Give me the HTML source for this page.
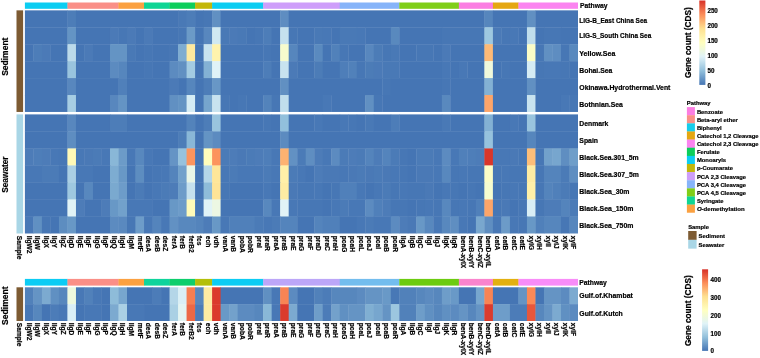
<!DOCTYPE html>
<html><head><meta charset="utf-8"><title>Heatmap</title>
<style>html,body{margin:0;padding:0;background:#fff;}body{width:760px;height:358px;overflow:hidden;font-family:"Liberation Sans",Arial,sans-serif;}svg{display:block;will-change:transform;transform:translateZ(0)}text{stroke:#000;stroke-width:0.2px}</style>
</head><body>
<svg width="760" height="358" viewBox="0 0 760 358" font-family="Liberation Sans, Arial, sans-serif" font-weight="bold" fill="#000">
<rect x="24.90" y="2.50" width="42.85" height="6.30" fill="#0CCDF2"/>
<rect x="67.45" y="2.50" width="51.36" height="6.30" fill="#FA8F87"/>
<rect x="118.50" y="2.50" width="25.83" height="6.30" fill="#FBA141"/>
<rect x="144.03" y="2.50" width="25.83" height="6.30" fill="#0FD594"/>
<rect x="169.56" y="2.50" width="25.83" height="6.30" fill="#0DCE5B"/>
<rect x="195.08" y="2.50" width="17.32" height="6.30" fill="#C3B70A"/>
<rect x="212.10" y="2.50" width="51.36" height="6.30" fill="#0CCDF2"/>
<rect x="263.16" y="2.50" width="76.88" height="6.30" fill="#CE9EFA"/>
<rect x="339.74" y="2.50" width="59.86" height="6.30" fill="#86B4F9"/>
<rect x="399.31" y="2.50" width="59.86" height="6.30" fill="#80CE18"/>
<rect x="458.87" y="2.50" width="34.34" height="6.30" fill="#FB7EE2"/>
<rect x="492.91" y="2.50" width="25.83" height="6.30" fill="#E5A712"/>
<rect x="518.44" y="2.50" width="59.56" height="6.30" fill="#FB84F0"/>
<text x="580.00" y="8.33" font-size="6.8" textLength="27.4" lengthAdjust="spacingAndGlyphs">Pathway</text>
<rect x="24.90" y="10.35" width="42.95" height="17.33" fill="#4575B4"/>
<rect x="67.45" y="10.35" width="8.91" height="17.33" fill="#4D7DB8"/>
<rect x="75.96" y="10.35" width="102.51" height="17.33" fill="#4575B4"/>
<rect x="178.07" y="10.35" width="8.91" height="17.33" fill="#4979B6"/>
<rect x="186.58" y="10.35" width="8.91" height="17.33" fill="#4D7DB8"/>
<rect x="195.08" y="10.35" width="8.91" height="17.33" fill="#4575B4"/>
<rect x="203.59" y="10.35" width="8.91" height="17.33" fill="#4777B5"/>
<rect x="212.10" y="10.35" width="8.91" height="17.33" fill="#6190C2"/>
<rect x="220.61" y="10.35" width="59.96" height="17.33" fill="#4575B4"/>
<rect x="280.18" y="10.35" width="8.91" height="17.33" fill="#5E8DC1"/>
<rect x="288.69" y="10.35" width="196.11" height="17.33" fill="#4575B4"/>
<rect x="484.40" y="10.35" width="8.91" height="17.33" fill="#5686BD"/>
<rect x="492.91" y="10.35" width="34.44" height="17.33" fill="#4575B4"/>
<rect x="526.94" y="10.35" width="8.91" height="17.33" fill="#6190C2"/>
<rect x="535.45" y="10.35" width="42.55" height="17.33" fill="#4575B4"/>
<rect x="24.90" y="27.28" width="42.95" height="17.33" fill="#4575B4"/>
<rect x="67.45" y="27.28" width="8.91" height="17.33" fill="#6494C4"/>
<rect x="75.96" y="27.28" width="34.44" height="17.33" fill="#4575B4"/>
<rect x="109.99" y="27.28" width="8.91" height="17.33" fill="#4B7AB7"/>
<rect x="118.50" y="27.28" width="8.91" height="17.33" fill="#4777B5"/>
<rect x="127.01" y="27.28" width="8.91" height="17.33" fill="#4B7AB7"/>
<rect x="135.52" y="27.28" width="8.91" height="17.33" fill="#4575B4"/>
<rect x="144.03" y="27.28" width="8.91" height="17.33" fill="#4B7AB7"/>
<rect x="152.54" y="27.28" width="25.93" height="17.33" fill="#4575B4"/>
<rect x="178.07" y="27.28" width="8.91" height="17.33" fill="#4777B5"/>
<rect x="186.58" y="27.28" width="8.91" height="17.33" fill="#6B9AC7"/>
<rect x="195.08" y="27.28" width="8.91" height="17.33" fill="#4575B4"/>
<rect x="203.59" y="27.28" width="8.91" height="17.33" fill="#5887BE"/>
<rect x="212.10" y="27.28" width="8.91" height="17.33" fill="#D0E9F2"/>
<rect x="220.61" y="27.28" width="8.91" height="17.33" fill="#4979B6"/>
<rect x="229.12" y="27.28" width="8.91" height="17.33" fill="#4B7AB7"/>
<rect x="237.63" y="27.28" width="8.91" height="17.33" fill="#4979B6"/>
<rect x="246.14" y="27.28" width="8.91" height="17.33" fill="#4575B4"/>
<rect x="254.65" y="27.28" width="8.91" height="17.33" fill="#4777B5"/>
<rect x="263.16" y="27.28" width="8.91" height="17.33" fill="#4D7DB8"/>
<rect x="271.67" y="27.28" width="8.91" height="17.33" fill="#4575B4"/>
<rect x="280.18" y="27.28" width="8.91" height="17.33" fill="#C5E1EE"/>
<rect x="288.69" y="27.28" width="8.91" height="17.33" fill="#4777B5"/>
<rect x="297.20" y="27.28" width="17.42" height="17.33" fill="#4575B4"/>
<rect x="314.21" y="27.28" width="8.91" height="17.33" fill="#4979B6"/>
<rect x="322.72" y="27.28" width="8.91" height="17.33" fill="#4878B6"/>
<rect x="331.23" y="27.28" width="8.91" height="17.33" fill="#4575B4"/>
<rect x="339.74" y="27.28" width="17.42" height="17.33" fill="#4979B6"/>
<rect x="356.76" y="27.28" width="8.91" height="17.33" fill="#4878B6"/>
<rect x="365.27" y="27.28" width="25.93" height="17.33" fill="#4575B4"/>
<rect x="390.80" y="27.28" width="8.91" height="17.33" fill="#5989BE"/>
<rect x="399.31" y="27.28" width="42.95" height="17.33" fill="#4575B4"/>
<rect x="441.85" y="27.28" width="42.95" height="17.33" fill="#4777B5"/>
<rect x="484.40" y="27.28" width="8.91" height="17.33" fill="#9EC8E0"/>
<rect x="492.91" y="27.28" width="8.91" height="17.33" fill="#4B7AB7"/>
<rect x="501.42" y="27.28" width="8.91" height="17.33" fill="#4777B5"/>
<rect x="509.93" y="27.28" width="8.91" height="17.33" fill="#4878B6"/>
<rect x="518.44" y="27.28" width="8.91" height="17.33" fill="#4575B4"/>
<rect x="526.94" y="27.28" width="8.91" height="17.33" fill="#C0DEEC"/>
<rect x="535.45" y="27.28" width="8.91" height="17.33" fill="#4575B4"/>
<rect x="543.96" y="27.28" width="17.42" height="17.33" fill="#4777B5"/>
<rect x="560.98" y="27.28" width="17.02" height="17.33" fill="#4575B4"/>
<rect x="24.90" y="44.22" width="8.91" height="17.33" fill="#4575B4"/>
<rect x="33.41" y="44.22" width="8.91" height="17.33" fill="#4D7DB8"/>
<rect x="41.92" y="44.22" width="8.91" height="17.33" fill="#4B7AB7"/>
<rect x="50.43" y="44.22" width="17.42" height="17.33" fill="#4575B4"/>
<rect x="67.45" y="44.22" width="8.91" height="17.33" fill="#BBDAEA"/>
<rect x="75.96" y="44.22" width="8.91" height="17.33" fill="#4575B4"/>
<rect x="84.46" y="44.22" width="8.91" height="17.33" fill="#4B7AB7"/>
<rect x="92.97" y="44.22" width="17.42" height="17.33" fill="#4575B4"/>
<rect x="109.99" y="44.22" width="17.42" height="17.33" fill="#6494C4"/>
<rect x="127.01" y="44.22" width="8.91" height="17.33" fill="#4979B6"/>
<rect x="135.52" y="44.22" width="8.91" height="17.33" fill="#4575B4"/>
<rect x="144.03" y="44.22" width="8.91" height="17.33" fill="#4777B5"/>
<rect x="152.54" y="44.22" width="17.42" height="17.33" fill="#4575B4"/>
<rect x="169.56" y="44.22" width="8.91" height="17.33" fill="#4777B5"/>
<rect x="178.07" y="44.22" width="8.91" height="17.33" fill="#7EACD1"/>
<rect x="186.58" y="44.22" width="8.91" height="17.33" fill="#FEE99E"/>
<rect x="195.08" y="44.22" width="8.91" height="17.33" fill="#4575B4"/>
<rect x="203.59" y="44.22" width="8.91" height="17.33" fill="#C8E3EF"/>
<rect x="212.10" y="44.22" width="8.91" height="17.33" fill="#FFF3AD"/>
<rect x="220.61" y="44.22" width="42.95" height="17.33" fill="#4575B4"/>
<rect x="263.16" y="44.22" width="8.91" height="17.33" fill="#4777B5"/>
<rect x="271.67" y="44.22" width="8.91" height="17.33" fill="#4575B4"/>
<rect x="280.18" y="44.22" width="8.91" height="17.33" fill="#F7FCCD"/>
<rect x="288.69" y="44.22" width="8.91" height="17.33" fill="#5686BD"/>
<rect x="297.20" y="44.22" width="17.42" height="17.33" fill="#4575B4"/>
<rect x="314.21" y="44.22" width="8.91" height="17.33" fill="#5A8ABF"/>
<rect x="322.72" y="44.22" width="8.91" height="17.33" fill="#4575B4"/>
<rect x="331.23" y="44.22" width="8.91" height="17.33" fill="#5181BA"/>
<rect x="339.74" y="44.22" width="8.91" height="17.33" fill="#4777B5"/>
<rect x="348.25" y="44.22" width="17.42" height="17.33" fill="#4575B4"/>
<rect x="365.27" y="44.22" width="8.91" height="17.33" fill="#5887BE"/>
<rect x="373.78" y="44.22" width="8.91" height="17.33" fill="#4C7CB7"/>
<rect x="382.29" y="44.22" width="8.91" height="17.33" fill="#4777B5"/>
<rect x="390.80" y="44.22" width="8.91" height="17.33" fill="#4979B6"/>
<rect x="399.31" y="44.22" width="17.42" height="17.33" fill="#4575B4"/>
<rect x="416.32" y="44.22" width="17.42" height="17.33" fill="#4777B5"/>
<rect x="433.34" y="44.22" width="8.91" height="17.33" fill="#4575B4"/>
<rect x="441.85" y="44.22" width="8.91" height="17.33" fill="#4B7AB7"/>
<rect x="450.36" y="44.22" width="34.44" height="17.33" fill="#4575B4"/>
<rect x="484.40" y="44.22" width="8.91" height="17.33" fill="#FDBA77"/>
<rect x="492.91" y="44.22" width="34.44" height="17.33" fill="#4575B4"/>
<rect x="526.94" y="44.22" width="8.91" height="17.33" fill="#FBFDC7"/>
<rect x="535.45" y="44.22" width="8.91" height="17.33" fill="#4777B5"/>
<rect x="543.96" y="44.22" width="8.91" height="17.33" fill="#6190C2"/>
<rect x="552.47" y="44.22" width="8.91" height="17.33" fill="#5E8DC1"/>
<rect x="560.98" y="44.22" width="8.91" height="17.33" fill="#4777B5"/>
<rect x="569.49" y="44.22" width="8.51" height="17.33" fill="#5989BE"/>
<rect x="24.90" y="61.15" width="42.95" height="17.33" fill="#4575B4"/>
<rect x="67.45" y="61.15" width="8.91" height="17.33" fill="#99C4DE"/>
<rect x="75.96" y="61.15" width="34.44" height="17.33" fill="#4575B4"/>
<rect x="109.99" y="61.15" width="8.91" height="17.33" fill="#5C8BC0"/>
<rect x="118.50" y="61.15" width="8.91" height="17.33" fill="#5686BD"/>
<rect x="127.01" y="61.15" width="17.42" height="17.33" fill="#4575B4"/>
<rect x="144.03" y="61.15" width="8.91" height="17.33" fill="#4777B5"/>
<rect x="152.54" y="61.15" width="17.42" height="17.33" fill="#4575B4"/>
<rect x="169.56" y="61.15" width="8.91" height="17.33" fill="#5C8BC0"/>
<rect x="178.07" y="61.15" width="8.91" height="17.33" fill="#6190C2"/>
<rect x="186.58" y="61.15" width="8.91" height="17.33" fill="#A3CBE2"/>
<rect x="195.08" y="61.15" width="8.91" height="17.33" fill="#4575B4"/>
<rect x="203.59" y="61.15" width="8.91" height="17.33" fill="#83B1D4"/>
<rect x="212.10" y="61.15" width="8.91" height="17.33" fill="#E0F3F7"/>
<rect x="220.61" y="61.15" width="42.95" height="17.33" fill="#4575B4"/>
<rect x="263.16" y="61.15" width="8.91" height="17.33" fill="#4D7DB8"/>
<rect x="271.67" y="61.15" width="8.91" height="17.33" fill="#4575B4"/>
<rect x="280.18" y="61.15" width="8.91" height="17.33" fill="#C8E3EF"/>
<rect x="288.69" y="61.15" width="8.91" height="17.33" fill="#4B7AB7"/>
<rect x="297.20" y="61.15" width="17.42" height="17.33" fill="#4575B4"/>
<rect x="314.21" y="61.15" width="8.91" height="17.33" fill="#4C7CB7"/>
<rect x="322.72" y="61.15" width="17.42" height="17.33" fill="#4575B4"/>
<rect x="339.74" y="61.15" width="8.91" height="17.33" fill="#4E7EB9"/>
<rect x="348.25" y="61.15" width="8.91" height="17.33" fill="#5181BA"/>
<rect x="356.76" y="61.15" width="8.91" height="17.33" fill="#4777B5"/>
<rect x="365.27" y="61.15" width="8.91" height="17.33" fill="#4C7CB7"/>
<rect x="373.78" y="61.15" width="8.91" height="17.33" fill="#4B7AB7"/>
<rect x="382.29" y="61.15" width="17.42" height="17.33" fill="#4979B6"/>
<rect x="399.31" y="61.15" width="42.95" height="17.33" fill="#4575B4"/>
<rect x="441.85" y="61.15" width="8.91" height="17.33" fill="#4878B6"/>
<rect x="450.36" y="61.15" width="8.91" height="17.33" fill="#4575B4"/>
<rect x="458.87" y="61.15" width="8.91" height="17.33" fill="#4878B6"/>
<rect x="467.38" y="61.15" width="17.42" height="17.33" fill="#4575B4"/>
<rect x="484.40" y="61.15" width="8.91" height="17.33" fill="#F0F9DB"/>
<rect x="492.91" y="61.15" width="8.91" height="17.33" fill="#4575B4"/>
<rect x="501.42" y="61.15" width="8.91" height="17.33" fill="#4777B5"/>
<rect x="509.93" y="61.15" width="17.42" height="17.33" fill="#4575B4"/>
<rect x="526.94" y="61.15" width="8.91" height="17.33" fill="#D5ECF4"/>
<rect x="535.45" y="61.15" width="8.91" height="17.33" fill="#4777B5"/>
<rect x="543.96" y="61.15" width="17.42" height="17.33" fill="#4878B6"/>
<rect x="560.98" y="61.15" width="8.91" height="17.33" fill="#4777B5"/>
<rect x="569.49" y="61.15" width="8.51" height="17.33" fill="#4575B4"/>
<rect x="24.90" y="78.08" width="42.95" height="17.33" fill="#4575B4"/>
<rect x="67.45" y="78.08" width="8.91" height="17.33" fill="#5887BE"/>
<rect x="75.96" y="78.08" width="42.95" height="17.33" fill="#4575B4"/>
<rect x="118.50" y="78.08" width="8.91" height="17.33" fill="#5080BA"/>
<rect x="127.01" y="78.08" width="42.95" height="17.33" fill="#4575B4"/>
<rect x="169.56" y="78.08" width="8.91" height="17.33" fill="#4B7AB7"/>
<rect x="178.07" y="78.08" width="8.91" height="17.33" fill="#4575B4"/>
<rect x="186.58" y="78.08" width="8.91" height="17.33" fill="#5686BD"/>
<rect x="195.08" y="78.08" width="8.91" height="17.33" fill="#4575B4"/>
<rect x="203.59" y="78.08" width="8.91" height="17.33" fill="#4D7DB8"/>
<rect x="212.10" y="78.08" width="8.91" height="17.33" fill="#6897C6"/>
<rect x="220.61" y="78.08" width="59.96" height="17.33" fill="#4575B4"/>
<rect x="280.18" y="78.08" width="8.91" height="17.33" fill="#6190C2"/>
<rect x="288.69" y="78.08" width="94.00" height="17.33" fill="#4575B4"/>
<rect x="382.29" y="78.08" width="8.91" height="17.33" fill="#4777B5"/>
<rect x="390.80" y="78.08" width="51.46" height="17.33" fill="#4575B4"/>
<rect x="441.85" y="78.08" width="8.91" height="17.33" fill="#4777B5"/>
<rect x="450.36" y="78.08" width="34.44" height="17.33" fill="#4575B4"/>
<rect x="484.40" y="78.08" width="8.91" height="17.33" fill="#83B1D4"/>
<rect x="492.91" y="78.08" width="34.44" height="17.33" fill="#4575B4"/>
<rect x="526.94" y="78.08" width="8.91" height="17.33" fill="#6190C2"/>
<rect x="535.45" y="78.08" width="42.55" height="17.33" fill="#4575B4"/>
<rect x="24.90" y="95.02" width="42.95" height="16.93" fill="#4575B4"/>
<rect x="67.45" y="95.02" width="8.91" height="16.93" fill="#A6CDE3"/>
<rect x="75.96" y="95.02" width="34.44" height="16.93" fill="#4575B4"/>
<rect x="109.99" y="95.02" width="8.91" height="16.93" fill="#5887BE"/>
<rect x="118.50" y="95.02" width="8.91" height="16.93" fill="#6494C4"/>
<rect x="127.01" y="95.02" width="42.95" height="16.93" fill="#4575B4"/>
<rect x="169.56" y="95.02" width="8.91" height="16.93" fill="#6190C2"/>
<rect x="178.07" y="95.02" width="8.91" height="16.93" fill="#6494C4"/>
<rect x="186.58" y="95.02" width="8.91" height="16.93" fill="#D5ECF4"/>
<rect x="195.08" y="95.02" width="8.91" height="16.93" fill="#4575B4"/>
<rect x="203.59" y="95.02" width="8.91" height="16.93" fill="#76A5CD"/>
<rect x="212.10" y="95.02" width="8.91" height="16.93" fill="#C8E3EF"/>
<rect x="220.61" y="95.02" width="8.91" height="16.93" fill="#4777B5"/>
<rect x="229.12" y="95.02" width="8.91" height="16.93" fill="#4575B4"/>
<rect x="237.63" y="95.02" width="8.91" height="16.93" fill="#4777B5"/>
<rect x="246.14" y="95.02" width="17.42" height="16.93" fill="#4575B4"/>
<rect x="263.16" y="95.02" width="8.91" height="16.93" fill="#5383BB"/>
<rect x="271.67" y="95.02" width="8.91" height="16.93" fill="#4777B5"/>
<rect x="280.18" y="95.02" width="8.91" height="16.93" fill="#C0DEEC"/>
<rect x="288.69" y="95.02" width="34.44" height="16.93" fill="#4575B4"/>
<rect x="322.72" y="95.02" width="8.91" height="16.93" fill="#4878B6"/>
<rect x="331.23" y="95.02" width="34.44" height="16.93" fill="#4575B4"/>
<rect x="365.27" y="95.02" width="8.91" height="16.93" fill="#6190C2"/>
<rect x="373.78" y="95.02" width="8.91" height="16.93" fill="#4777B5"/>
<rect x="382.29" y="95.02" width="59.96" height="16.93" fill="#4575B4"/>
<rect x="441.85" y="95.02" width="8.91" height="16.93" fill="#5989BE"/>
<rect x="450.36" y="95.02" width="34.44" height="16.93" fill="#4575B4"/>
<rect x="484.40" y="95.02" width="8.91" height="16.93" fill="#FDA569"/>
<rect x="492.91" y="95.02" width="34.44" height="16.93" fill="#4575B4"/>
<rect x="526.94" y="95.02" width="8.91" height="16.93" fill="#C8E3EF"/>
<rect x="535.45" y="95.02" width="25.93" height="16.93" fill="#4575B4"/>
<rect x="560.98" y="95.02" width="8.91" height="16.93" fill="#4878B6"/>
<rect x="569.49" y="95.02" width="8.51" height="16.93" fill="#4777B5"/>
<text x="579.30" y="22.73" font-size="6.8" textLength="67.8" lengthAdjust="spacingAndGlyphs">LIG-B_East China Sea</text>
<text x="579.30" y="38.28" font-size="6.8" textLength="72.0" lengthAdjust="spacingAndGlyphs">LIG-S_South China Sea</text>
<text x="579.30" y="56.13" font-size="6.8" textLength="36.0" lengthAdjust="spacingAndGlyphs">Yellow.Sea</text>
<text x="579.30" y="73.03" font-size="6.8" textLength="33.0" lengthAdjust="spacingAndGlyphs">Bohai.Sea</text>
<text x="579.30" y="90.03" font-size="6.8" textLength="91.1" lengthAdjust="spacingAndGlyphs">Okinawa.Hydrothermal.Vent</text>
<text x="579.30" y="106.83" font-size="6.8" textLength="43.6" lengthAdjust="spacingAndGlyphs">Bothnian.Sea</text>
<rect x="24.90" y="114.40" width="42.95" height="17.41" fill="#4575B4"/>
<rect x="67.45" y="114.40" width="8.91" height="17.41" fill="#5887BE"/>
<rect x="75.96" y="114.40" width="34.44" height="17.41" fill="#4575B4"/>
<rect x="109.99" y="114.40" width="17.42" height="17.41" fill="#4D7DB8"/>
<rect x="127.01" y="114.40" width="59.96" height="17.41" fill="#4575B4"/>
<rect x="186.58" y="114.40" width="8.91" height="17.41" fill="#5383BB"/>
<rect x="195.08" y="114.40" width="8.91" height="17.41" fill="#4575B4"/>
<rect x="203.59" y="114.40" width="8.91" height="17.41" fill="#4D7DB8"/>
<rect x="212.10" y="114.40" width="8.91" height="17.41" fill="#99C4DE"/>
<rect x="220.61" y="114.40" width="42.95" height="17.41" fill="#4575B4"/>
<rect x="263.16" y="114.40" width="8.91" height="17.41" fill="#4777B5"/>
<rect x="271.67" y="114.40" width="8.91" height="17.41" fill="#4575B4"/>
<rect x="280.18" y="114.40" width="8.91" height="17.41" fill="#92C0DC"/>
<rect x="288.69" y="114.40" width="25.93" height="17.41" fill="#4575B4"/>
<rect x="314.21" y="114.40" width="8.91" height="17.41" fill="#4878B6"/>
<rect x="322.72" y="114.40" width="17.42" height="17.41" fill="#4575B4"/>
<rect x="339.74" y="114.40" width="8.91" height="17.41" fill="#4878B6"/>
<rect x="348.25" y="114.40" width="8.91" height="17.41" fill="#4777B5"/>
<rect x="356.76" y="114.40" width="8.91" height="17.41" fill="#4575B4"/>
<rect x="365.27" y="114.40" width="8.91" height="17.41" fill="#4979B6"/>
<rect x="373.78" y="114.40" width="17.42" height="17.41" fill="#4575B4"/>
<rect x="390.80" y="114.40" width="8.91" height="17.41" fill="#4D7DB8"/>
<rect x="399.31" y="114.40" width="42.95" height="17.41" fill="#4575B4"/>
<rect x="441.85" y="114.40" width="8.91" height="17.41" fill="#4979B6"/>
<rect x="450.36" y="114.40" width="34.44" height="17.41" fill="#4575B4"/>
<rect x="484.40" y="114.40" width="8.91" height="17.41" fill="#83B1D4"/>
<rect x="492.91" y="114.40" width="17.42" height="17.41" fill="#4575B4"/>
<rect x="509.93" y="114.40" width="8.91" height="17.41" fill="#4878B6"/>
<rect x="518.44" y="114.40" width="8.91" height="17.41" fill="#4575B4"/>
<rect x="526.94" y="114.40" width="8.91" height="17.41" fill="#99C4DE"/>
<rect x="535.45" y="114.40" width="42.55" height="17.41" fill="#4575B4"/>
<rect x="24.90" y="131.41" width="42.95" height="17.41" fill="#4575B4"/>
<rect x="67.45" y="131.41" width="8.91" height="17.41" fill="#5E8DC1"/>
<rect x="75.96" y="131.41" width="102.51" height="17.41" fill="#4575B4"/>
<rect x="178.07" y="131.41" width="8.91" height="17.41" fill="#4D7DB8"/>
<rect x="186.58" y="131.41" width="8.91" height="17.41" fill="#89B7D7"/>
<rect x="195.08" y="131.41" width="8.91" height="17.41" fill="#4575B4"/>
<rect x="203.59" y="131.41" width="8.91" height="17.41" fill="#6494C4"/>
<rect x="212.10" y="131.41" width="8.91" height="17.41" fill="#5C8BC0"/>
<rect x="220.61" y="131.41" width="59.96" height="17.41" fill="#4575B4"/>
<rect x="280.18" y="131.41" width="8.91" height="17.41" fill="#5C8BC0"/>
<rect x="288.69" y="131.41" width="196.11" height="17.41" fill="#4575B4"/>
<rect x="484.40" y="131.41" width="8.91" height="17.41" fill="#96C2DD"/>
<rect x="492.91" y="131.41" width="34.44" height="17.41" fill="#4575B4"/>
<rect x="526.94" y="131.41" width="8.91" height="17.41" fill="#5686BD"/>
<rect x="535.45" y="131.41" width="42.55" height="17.41" fill="#4575B4"/>
<rect x="24.90" y="148.43" width="8.91" height="17.41" fill="#4D7CB8"/>
<rect x="33.41" y="148.43" width="8.91" height="17.41" fill="#4E7EB9"/>
<rect x="41.92" y="148.43" width="8.91" height="17.41" fill="#4D7CB8"/>
<rect x="50.43" y="148.43" width="8.91" height="17.41" fill="#4878B6"/>
<rect x="58.94" y="148.43" width="8.91" height="17.41" fill="#4777B5"/>
<rect x="67.45" y="148.43" width="8.91" height="17.41" fill="#FFF9B7"/>
<rect x="75.96" y="148.43" width="8.91" height="17.41" fill="#4878B6"/>
<rect x="84.46" y="148.43" width="8.91" height="17.41" fill="#4A79B6"/>
<rect x="92.97" y="148.43" width="8.91" height="17.41" fill="#4B7BB7"/>
<rect x="101.48" y="148.43" width="8.91" height="17.41" fill="#4878B6"/>
<rect x="109.99" y="148.43" width="8.91" height="17.41" fill="#89B7D7"/>
<rect x="118.50" y="148.43" width="8.91" height="17.41" fill="#6C9BC8"/>
<rect x="127.01" y="148.43" width="8.91" height="17.41" fill="#4878B6"/>
<rect x="135.52" y="148.43" width="8.91" height="17.41" fill="#5888BE"/>
<rect x="144.03" y="148.43" width="8.91" height="17.41" fill="#4878B6"/>
<rect x="152.54" y="148.43" width="17.42" height="17.41" fill="#4575B4"/>
<rect x="169.56" y="148.43" width="8.91" height="17.41" fill="#6594C5"/>
<rect x="178.07" y="148.43" width="8.91" height="17.41" fill="#96C2DD"/>
<rect x="186.58" y="148.43" width="8.91" height="17.41" fill="#FC945D"/>
<rect x="195.08" y="148.43" width="8.91" height="17.41" fill="#4575B4"/>
<rect x="203.59" y="148.43" width="8.91" height="17.41" fill="#FFFDBC"/>
<rect x="212.10" y="148.43" width="8.91" height="17.41" fill="#FC945D"/>
<rect x="220.61" y="148.43" width="8.91" height="17.41" fill="#4B7BB7"/>
<rect x="229.12" y="148.43" width="8.91" height="17.41" fill="#4D7CB8"/>
<rect x="237.63" y="148.43" width="8.91" height="17.41" fill="#4A79B6"/>
<rect x="246.14" y="148.43" width="8.91" height="17.41" fill="#4B7BB7"/>
<rect x="254.65" y="148.43" width="8.91" height="17.41" fill="#4D7CB8"/>
<rect x="263.16" y="148.43" width="8.91" height="17.41" fill="#4E7EB9"/>
<rect x="271.67" y="148.43" width="8.91" height="17.41" fill="#4878B6"/>
<rect x="280.18" y="148.43" width="8.91" height="17.41" fill="#FDB271"/>
<rect x="288.69" y="148.43" width="8.91" height="17.41" fill="#6291C3"/>
<rect x="297.20" y="148.43" width="8.91" height="17.41" fill="#4B7BB7"/>
<rect x="305.70" y="148.43" width="8.91" height="17.41" fill="#5F8EC1"/>
<rect x="314.21" y="148.43" width="8.91" height="17.41" fill="#4D7CB8"/>
<rect x="322.72" y="148.43" width="8.91" height="17.41" fill="#4878B6"/>
<rect x="331.23" y="148.43" width="8.91" height="17.41" fill="#5C8BC0"/>
<rect x="339.74" y="148.43" width="8.91" height="17.41" fill="#4B7BB7"/>
<rect x="348.25" y="148.43" width="8.91" height="17.41" fill="#4D7CB8"/>
<rect x="356.76" y="148.43" width="8.91" height="17.41" fill="#4B7BB7"/>
<rect x="365.27" y="148.43" width="8.91" height="17.41" fill="#5484BC"/>
<rect x="373.78" y="148.43" width="8.91" height="17.41" fill="#4D7CB8"/>
<rect x="382.29" y="148.43" width="8.91" height="17.41" fill="#5484BC"/>
<rect x="390.80" y="148.43" width="8.91" height="17.41" fill="#4B7BB7"/>
<rect x="399.31" y="148.43" width="8.91" height="17.41" fill="#4777B5"/>
<rect x="407.82" y="148.43" width="8.91" height="17.41" fill="#4575B4"/>
<rect x="416.32" y="148.43" width="17.42" height="17.41" fill="#4B7BB7"/>
<rect x="433.34" y="148.43" width="8.91" height="17.41" fill="#4878B6"/>
<rect x="441.85" y="148.43" width="8.91" height="17.41" fill="#5C8BC0"/>
<rect x="450.36" y="148.43" width="8.91" height="17.41" fill="#4878B6"/>
<rect x="458.87" y="148.43" width="8.91" height="17.41" fill="#5080BA"/>
<rect x="467.38" y="148.43" width="8.91" height="17.41" fill="#4E7EB9"/>
<rect x="475.89" y="148.43" width="8.91" height="17.41" fill="#4D7CB8"/>
<rect x="484.40" y="148.43" width="8.91" height="17.41" fill="#D9362A"/>
<rect x="492.91" y="148.43" width="17.42" height="17.41" fill="#4878B6"/>
<rect x="509.93" y="148.43" width="8.91" height="17.41" fill="#4A79B6"/>
<rect x="518.44" y="148.43" width="8.91" height="17.41" fill="#4777B5"/>
<rect x="526.94" y="148.43" width="8.91" height="17.41" fill="#FDBE79"/>
<rect x="535.45" y="148.43" width="8.91" height="17.41" fill="#4777B5"/>
<rect x="543.96" y="148.43" width="8.91" height="17.41" fill="#72A1CB"/>
<rect x="552.47" y="148.43" width="8.91" height="17.41" fill="#77A6CE"/>
<rect x="560.98" y="148.43" width="8.91" height="17.41" fill="#5F8EC1"/>
<rect x="569.49" y="148.43" width="8.51" height="17.41" fill="#6F9EC9"/>
<rect x="24.90" y="165.44" width="17.42" height="17.41" fill="#4878B6"/>
<rect x="41.92" y="165.44" width="17.42" height="17.41" fill="#4B7BB7"/>
<rect x="58.94" y="165.44" width="8.91" height="17.41" fill="#4575B4"/>
<rect x="67.45" y="165.44" width="8.91" height="17.41" fill="#AACFE4"/>
<rect x="75.96" y="165.44" width="17.42" height="17.41" fill="#4878B6"/>
<rect x="92.97" y="165.44" width="17.42" height="17.41" fill="#4575B4"/>
<rect x="109.99" y="165.44" width="8.91" height="17.41" fill="#7DACD1"/>
<rect x="118.50" y="165.44" width="8.91" height="17.41" fill="#6898C6"/>
<rect x="127.01" y="165.44" width="8.91" height="17.41" fill="#4575B4"/>
<rect x="135.52" y="165.44" width="8.91" height="17.41" fill="#5D8DC0"/>
<rect x="144.03" y="165.44" width="8.91" height="17.41" fill="#4575B4"/>
<rect x="152.54" y="165.44" width="8.91" height="17.41" fill="#4777B5"/>
<rect x="161.05" y="165.44" width="8.91" height="17.41" fill="#4878B6"/>
<rect x="169.56" y="165.44" width="8.91" height="17.41" fill="#5484BC"/>
<rect x="178.07" y="165.44" width="8.91" height="17.41" fill="#72A1CB"/>
<rect x="186.58" y="165.44" width="8.91" height="17.41" fill="#E9F6E7"/>
<rect x="195.08" y="165.44" width="8.91" height="17.41" fill="#4575B4"/>
<rect x="203.59" y="165.44" width="8.91" height="17.41" fill="#B4D6E8"/>
<rect x="212.10" y="165.44" width="8.91" height="17.41" fill="#FEE699"/>
<rect x="220.61" y="165.44" width="8.91" height="17.41" fill="#4878B6"/>
<rect x="229.12" y="165.44" width="8.91" height="17.41" fill="#4B7BB7"/>
<rect x="237.63" y="165.44" width="25.93" height="17.41" fill="#4878B6"/>
<rect x="263.16" y="165.44" width="8.91" height="17.41" fill="#4B7BB7"/>
<rect x="271.67" y="165.44" width="8.91" height="17.41" fill="#4878B6"/>
<rect x="280.18" y="165.44" width="8.91" height="17.41" fill="#FFF0A8"/>
<rect x="288.69" y="165.44" width="8.91" height="17.41" fill="#4B7BB7"/>
<rect x="297.20" y="165.44" width="8.91" height="17.41" fill="#4878B6"/>
<rect x="305.70" y="165.44" width="8.91" height="17.41" fill="#4575B4"/>
<rect x="314.21" y="165.44" width="8.91" height="17.41" fill="#4D7CB8"/>
<rect x="322.72" y="165.44" width="17.42" height="17.41" fill="#4A79B6"/>
<rect x="339.74" y="165.44" width="8.91" height="17.41" fill="#4878B6"/>
<rect x="348.25" y="165.44" width="8.91" height="17.41" fill="#4A79B6"/>
<rect x="356.76" y="165.44" width="8.91" height="17.41" fill="#4B7BB7"/>
<rect x="365.27" y="165.44" width="8.91" height="17.41" fill="#4A79B6"/>
<rect x="373.78" y="165.44" width="8.91" height="17.41" fill="#4B7BB7"/>
<rect x="382.29" y="165.44" width="8.91" height="17.41" fill="#4A79B6"/>
<rect x="390.80" y="165.44" width="8.91" height="17.41" fill="#4878B6"/>
<rect x="399.31" y="165.44" width="8.91" height="17.41" fill="#4777B5"/>
<rect x="407.82" y="165.44" width="8.91" height="17.41" fill="#4575B4"/>
<rect x="416.32" y="165.44" width="17.42" height="17.41" fill="#4A79B6"/>
<rect x="433.34" y="165.44" width="8.91" height="17.41" fill="#4878B6"/>
<rect x="441.85" y="165.44" width="8.91" height="17.41" fill="#5888BE"/>
<rect x="450.36" y="165.44" width="8.91" height="17.41" fill="#4777B5"/>
<rect x="458.87" y="165.44" width="8.91" height="17.41" fill="#4878B6"/>
<rect x="467.38" y="165.44" width="17.42" height="17.41" fill="#4777B5"/>
<rect x="484.40" y="165.44" width="8.91" height="17.41" fill="#FBFDC7"/>
<rect x="492.91" y="165.44" width="8.91" height="17.41" fill="#4777B5"/>
<rect x="501.42" y="165.44" width="8.91" height="17.41" fill="#4878B6"/>
<rect x="509.93" y="165.44" width="17.42" height="17.41" fill="#4777B5"/>
<rect x="526.94" y="165.44" width="8.91" height="17.41" fill="#FEECA3"/>
<rect x="535.45" y="165.44" width="8.91" height="17.41" fill="#4777B5"/>
<rect x="543.96" y="165.44" width="17.42" height="17.41" fill="#5484BC"/>
<rect x="560.98" y="165.44" width="8.91" height="17.41" fill="#4B7BB7"/>
<rect x="569.49" y="165.44" width="8.51" height="17.41" fill="#5F8EC1"/>
<rect x="24.90" y="182.46" width="42.95" height="17.41" fill="#4575B4"/>
<rect x="67.45" y="182.46" width="8.91" height="17.41" fill="#9EC8E0"/>
<rect x="75.96" y="182.46" width="8.91" height="17.41" fill="#4575B4"/>
<rect x="84.46" y="182.46" width="8.91" height="17.41" fill="#5888BE"/>
<rect x="92.97" y="182.46" width="17.42" height="17.41" fill="#4575B4"/>
<rect x="109.99" y="182.46" width="8.91" height="17.41" fill="#7AA9CF"/>
<rect x="118.50" y="182.46" width="8.91" height="17.41" fill="#6D9CC9"/>
<rect x="127.01" y="182.46" width="8.91" height="17.41" fill="#4575B4"/>
<rect x="135.52" y="182.46" width="8.91" height="17.41" fill="#4B7BB7"/>
<rect x="144.03" y="182.46" width="8.91" height="17.41" fill="#4575B4"/>
<rect x="152.54" y="182.46" width="8.91" height="17.41" fill="#4878B6"/>
<rect x="161.05" y="182.46" width="8.91" height="17.41" fill="#4B7BB7"/>
<rect x="169.56" y="182.46" width="8.91" height="17.41" fill="#4D7CB8"/>
<rect x="178.07" y="182.46" width="8.91" height="17.41" fill="#6D9CC9"/>
<rect x="186.58" y="182.46" width="8.91" height="17.41" fill="#C5E1EE"/>
<rect x="195.08" y="182.46" width="8.91" height="17.41" fill="#4575B4"/>
<rect x="203.59" y="182.46" width="8.91" height="17.41" fill="#8EBCD9"/>
<rect x="212.10" y="182.46" width="8.91" height="17.41" fill="#FEE497"/>
<rect x="220.61" y="182.46" width="8.91" height="17.41" fill="#4777B5"/>
<rect x="229.12" y="182.46" width="34.44" height="17.41" fill="#4575B4"/>
<rect x="263.16" y="182.46" width="8.91" height="17.41" fill="#4878B6"/>
<rect x="271.67" y="182.46" width="8.91" height="17.41" fill="#4575B4"/>
<rect x="280.18" y="182.46" width="8.91" height="17.41" fill="#FEECA3"/>
<rect x="288.69" y="182.46" width="8.91" height="17.41" fill="#4A79B6"/>
<rect x="297.20" y="182.46" width="17.42" height="17.41" fill="#4777B5"/>
<rect x="314.21" y="182.46" width="8.91" height="17.41" fill="#4878B6"/>
<rect x="322.72" y="182.46" width="8.91" height="17.41" fill="#4575B4"/>
<rect x="331.23" y="182.46" width="8.91" height="17.41" fill="#4777B5"/>
<rect x="339.74" y="182.46" width="17.42" height="17.41" fill="#5080BA"/>
<rect x="356.76" y="182.46" width="8.91" height="17.41" fill="#4878B6"/>
<rect x="365.27" y="182.46" width="8.91" height="17.41" fill="#4575B4"/>
<rect x="373.78" y="182.46" width="8.91" height="17.41" fill="#4878B6"/>
<rect x="382.29" y="182.46" width="8.91" height="17.41" fill="#4B7BB7"/>
<rect x="390.80" y="182.46" width="8.91" height="17.41" fill="#4777B5"/>
<rect x="399.31" y="182.46" width="8.91" height="17.41" fill="#4878B6"/>
<rect x="407.82" y="182.46" width="17.42" height="17.41" fill="#4777B5"/>
<rect x="424.83" y="182.46" width="8.91" height="17.41" fill="#4A79B6"/>
<rect x="433.34" y="182.46" width="8.91" height="17.41" fill="#4575B4"/>
<rect x="441.85" y="182.46" width="8.91" height="17.41" fill="#4878B6"/>
<rect x="450.36" y="182.46" width="8.91" height="17.41" fill="#4777B5"/>
<rect x="458.87" y="182.46" width="8.91" height="17.41" fill="#4575B4"/>
<rect x="467.38" y="182.46" width="8.91" height="17.41" fill="#4777B5"/>
<rect x="475.89" y="182.46" width="8.91" height="17.41" fill="#4575B4"/>
<rect x="484.40" y="182.46" width="8.91" height="17.41" fill="#F6FCCF"/>
<rect x="492.91" y="182.46" width="8.91" height="17.41" fill="#4575B4"/>
<rect x="501.42" y="182.46" width="8.91" height="17.41" fill="#4777B5"/>
<rect x="509.93" y="182.46" width="8.91" height="17.41" fill="#4878B6"/>
<rect x="518.44" y="182.46" width="8.91" height="17.41" fill="#4777B5"/>
<rect x="526.94" y="182.46" width="8.91" height="17.41" fill="#FFF0A8"/>
<rect x="535.45" y="182.46" width="8.91" height="17.41" fill="#4777B5"/>
<rect x="543.96" y="182.46" width="8.91" height="17.41" fill="#5484BC"/>
<rect x="552.47" y="182.46" width="8.91" height="17.41" fill="#5080BA"/>
<rect x="560.98" y="182.46" width="8.91" height="17.41" fill="#4B7BB7"/>
<rect x="569.49" y="182.46" width="8.51" height="17.41" fill="#4777B5"/>
<rect x="24.90" y="199.47" width="42.95" height="17.41" fill="#4575B4"/>
<rect x="67.45" y="199.47" width="8.91" height="17.41" fill="#E1F3F6"/>
<rect x="75.96" y="199.47" width="8.91" height="17.41" fill="#4D7CB8"/>
<rect x="84.46" y="199.47" width="17.42" height="17.41" fill="#4575B4"/>
<rect x="101.48" y="199.47" width="8.91" height="17.41" fill="#4D7CB8"/>
<rect x="109.99" y="199.47" width="8.91" height="17.41" fill="#6898C6"/>
<rect x="118.50" y="199.47" width="8.91" height="17.41" fill="#72A1CB"/>
<rect x="127.01" y="199.47" width="25.93" height="17.41" fill="#4878B6"/>
<rect x="152.54" y="199.47" width="17.42" height="17.41" fill="#4575B4"/>
<rect x="169.56" y="199.47" width="8.91" height="17.41" fill="#6898C6"/>
<rect x="178.07" y="199.47" width="8.91" height="17.41" fill="#6D9CC9"/>
<rect x="186.58" y="199.47" width="8.91" height="17.41" fill="#FFFBB9"/>
<rect x="195.08" y="199.47" width="8.91" height="17.41" fill="#4575B4"/>
<rect x="203.59" y="199.47" width="8.91" height="17.41" fill="#E0F3F7"/>
<rect x="212.10" y="199.47" width="8.91" height="17.41" fill="#ECF7E3"/>
<rect x="220.61" y="199.47" width="42.95" height="17.41" fill="#4575B4"/>
<rect x="263.16" y="199.47" width="8.91" height="17.41" fill="#5888BE"/>
<rect x="271.67" y="199.47" width="8.91" height="17.41" fill="#4878B6"/>
<rect x="280.18" y="199.47" width="8.91" height="17.41" fill="#E1F3F6"/>
<rect x="288.69" y="199.47" width="8.91" height="17.41" fill="#4878B6"/>
<rect x="297.20" y="199.47" width="25.93" height="17.41" fill="#4777B5"/>
<rect x="322.72" y="199.47" width="8.91" height="17.41" fill="#4575B4"/>
<rect x="331.23" y="199.47" width="8.91" height="17.41" fill="#4878B6"/>
<rect x="339.74" y="199.47" width="8.91" height="17.41" fill="#4B7BB7"/>
<rect x="348.25" y="199.47" width="17.42" height="17.41" fill="#4878B6"/>
<rect x="365.27" y="199.47" width="8.91" height="17.41" fill="#5C8BC0"/>
<rect x="373.78" y="199.47" width="8.91" height="17.41" fill="#5080BA"/>
<rect x="382.29" y="199.47" width="8.91" height="17.41" fill="#4D7CB8"/>
<rect x="390.80" y="199.47" width="17.42" height="17.41" fill="#4777B5"/>
<rect x="407.82" y="199.47" width="8.91" height="17.41" fill="#4575B4"/>
<rect x="416.32" y="199.47" width="8.91" height="17.41" fill="#4777B5"/>
<rect x="424.83" y="199.47" width="8.91" height="17.41" fill="#4878B6"/>
<rect x="433.34" y="199.47" width="8.91" height="17.41" fill="#4777B5"/>
<rect x="441.85" y="199.47" width="8.91" height="17.41" fill="#5888BE"/>
<rect x="450.36" y="199.47" width="8.91" height="17.41" fill="#4777B5"/>
<rect x="458.87" y="199.47" width="8.91" height="17.41" fill="#4878B6"/>
<rect x="467.38" y="199.47" width="8.91" height="17.41" fill="#4777B5"/>
<rect x="475.89" y="199.47" width="8.91" height="17.41" fill="#5080BA"/>
<rect x="484.40" y="199.47" width="8.91" height="17.41" fill="#FDA569"/>
<rect x="492.91" y="199.47" width="8.91" height="17.41" fill="#4777B5"/>
<rect x="501.42" y="199.47" width="8.91" height="17.41" fill="#4A79B6"/>
<rect x="509.93" y="199.47" width="8.91" height="17.41" fill="#4575B4"/>
<rect x="518.44" y="199.47" width="8.91" height="17.41" fill="#4777B5"/>
<rect x="526.94" y="199.47" width="8.91" height="17.41" fill="#D9EEF5"/>
<rect x="535.45" y="199.47" width="8.91" height="17.41" fill="#4777B5"/>
<rect x="543.96" y="199.47" width="17.42" height="17.41" fill="#4D7CB8"/>
<rect x="560.98" y="199.47" width="8.91" height="17.41" fill="#5484BC"/>
<rect x="569.49" y="199.47" width="8.51" height="17.41" fill="#4B7BB7"/>
<rect x="24.90" y="216.49" width="8.91" height="17.01" fill="#4878B6"/>
<rect x="33.41" y="216.49" width="8.91" height="17.01" fill="#6090C2"/>
<rect x="41.92" y="216.49" width="8.91" height="17.01" fill="#4777B5"/>
<rect x="50.43" y="216.49" width="8.91" height="17.01" fill="#4575B4"/>
<rect x="58.94" y="216.49" width="8.91" height="17.01" fill="#5D8DC0"/>
<rect x="67.45" y="216.49" width="8.91" height="17.01" fill="#6898C6"/>
<rect x="75.96" y="216.49" width="34.44" height="17.01" fill="#4575B4"/>
<rect x="109.99" y="216.49" width="8.91" height="17.01" fill="#5C8BC0"/>
<rect x="118.50" y="216.49" width="8.91" height="17.01" fill="#5A89BF"/>
<rect x="127.01" y="216.49" width="8.91" height="17.01" fill="#4777B5"/>
<rect x="135.52" y="216.49" width="8.91" height="17.01" fill="#6D9CC9"/>
<rect x="144.03" y="216.49" width="8.91" height="17.01" fill="#4878B6"/>
<rect x="152.54" y="216.49" width="8.91" height="17.01" fill="#5484BC"/>
<rect x="161.05" y="216.49" width="8.91" height="17.01" fill="#4878B6"/>
<rect x="169.56" y="216.49" width="8.91" height="17.01" fill="#6291C3"/>
<rect x="178.07" y="216.49" width="17.42" height="17.01" fill="#5888BE"/>
<rect x="195.08" y="216.49" width="8.91" height="17.01" fill="#5484BC"/>
<rect x="203.59" y="216.49" width="8.91" height="17.01" fill="#4D7CB8"/>
<rect x="212.10" y="216.49" width="8.91" height="17.01" fill="#6898C6"/>
<rect x="220.61" y="216.49" width="8.91" height="17.01" fill="#4878B6"/>
<rect x="229.12" y="216.49" width="25.93" height="17.01" fill="#5080BA"/>
<rect x="254.65" y="216.49" width="8.91" height="17.01" fill="#4B7BB7"/>
<rect x="263.16" y="216.49" width="8.91" height="17.01" fill="#4878B6"/>
<rect x="271.67" y="216.49" width="8.91" height="17.01" fill="#4B7BB7"/>
<rect x="280.18" y="216.49" width="17.42" height="17.01" fill="#5484BC"/>
<rect x="297.20" y="216.49" width="17.42" height="17.01" fill="#4575B4"/>
<rect x="314.21" y="216.49" width="8.91" height="17.01" fill="#5484BC"/>
<rect x="322.72" y="216.49" width="17.42" height="17.01" fill="#5080BA"/>
<rect x="339.74" y="216.49" width="17.42" height="17.01" fill="#4575B4"/>
<rect x="356.76" y="216.49" width="8.91" height="17.01" fill="#4878B6"/>
<rect x="365.27" y="216.49" width="8.91" height="17.01" fill="#4B7BB7"/>
<rect x="373.78" y="216.49" width="17.42" height="17.01" fill="#4878B6"/>
<rect x="390.80" y="216.49" width="8.91" height="17.01" fill="#5C8BC0"/>
<rect x="399.31" y="216.49" width="8.91" height="17.01" fill="#4D7CB8"/>
<rect x="407.82" y="216.49" width="8.91" height="17.01" fill="#4A79B6"/>
<rect x="416.32" y="216.49" width="8.91" height="17.01" fill="#6898C6"/>
<rect x="424.83" y="216.49" width="8.91" height="17.01" fill="#5888BE"/>
<rect x="433.34" y="216.49" width="8.91" height="17.01" fill="#4878B6"/>
<rect x="441.85" y="216.49" width="8.91" height="17.01" fill="#5888BE"/>
<rect x="450.36" y="216.49" width="8.91" height="17.01" fill="#5F8EC1"/>
<rect x="458.87" y="216.49" width="8.91" height="17.01" fill="#4878B6"/>
<rect x="467.38" y="216.49" width="8.91" height="17.01" fill="#4575B4"/>
<rect x="475.89" y="216.49" width="8.91" height="17.01" fill="#79A7CE"/>
<rect x="484.40" y="216.49" width="8.91" height="17.01" fill="#5F8EC1"/>
<rect x="492.91" y="216.49" width="8.91" height="17.01" fill="#4878B6"/>
<rect x="501.42" y="216.49" width="8.91" height="17.01" fill="#6C9BC8"/>
<rect x="509.93" y="216.49" width="8.91" height="17.01" fill="#4878B6"/>
<rect x="518.44" y="216.49" width="8.91" height="17.01" fill="#4777B5"/>
<rect x="526.94" y="216.49" width="8.91" height="17.01" fill="#6898C6"/>
<rect x="535.45" y="216.49" width="8.91" height="17.01" fill="#5080BA"/>
<rect x="543.96" y="216.49" width="17.42" height="17.01" fill="#5686BD"/>
<rect x="560.98" y="216.49" width="8.91" height="17.01" fill="#4777B5"/>
<rect x="569.49" y="216.49" width="8.51" height="17.01" fill="#5686BD"/>
<text x="579.30" y="126.03" font-size="6.8" textLength="29.1" lengthAdjust="spacingAndGlyphs">Denmark</text>
<text x="579.30" y="143.03" font-size="6.8" textLength="18.7" lengthAdjust="spacingAndGlyphs">Spain</text>
<text x="579.30" y="160.23" font-size="6.8" textLength="59.4" lengthAdjust="spacingAndGlyphs">Black.Sea.301_5m</text>
<text x="579.30" y="177.03" font-size="6.8" textLength="59.5" lengthAdjust="spacingAndGlyphs">Black.Sea.307_5m</text>
<text x="579.30" y="193.83" font-size="6.8" textLength="50.2" lengthAdjust="spacingAndGlyphs">Black.Sea_30m</text>
<text x="579.30" y="210.93" font-size="6.8" textLength="54.1" lengthAdjust="spacingAndGlyphs">Black.Sea_150m</text>
<text x="579.30" y="227.93" font-size="6.8" textLength="54.1" lengthAdjust="spacingAndGlyphs">Black.Sea_750m</text>
<rect x="16.50" y="10.35" width="6.60" height="101.60" fill="#7D5B33"/>
<rect x="16.50" y="114.40" width="6.60" height="119.10" fill="#A9D6E6"/>
<text transform="translate(17.40,235.80) rotate(90) scale(1,0.95)" font-size="6.65">Sample</text>
<text transform="translate(26.89,235.80) rotate(90) scale(1,0.95)" font-size="6.65">ligW2</text>
<text transform="translate(35.40,235.80) rotate(90) scale(1,0.95)" font-size="6.65">ligW</text>
<text transform="translate(43.91,235.80) rotate(90) scale(1,0.95)" font-size="6.65">ligX</text>
<text transform="translate(52.42,235.80) rotate(90) scale(1,0.95)" font-size="6.65">ligY</text>
<text transform="translate(60.93,235.80) rotate(90) scale(1,0.95)" font-size="6.65">ligZ</text>
<text transform="translate(69.44,235.80) rotate(90) scale(1,0.95)" font-size="6.65">ligD</text>
<text transform="translate(77.95,235.80) rotate(90) scale(1,0.95)" font-size="6.65">ligE</text>
<text transform="translate(86.46,235.80) rotate(90) scale(1,0.95)" font-size="6.65">ligF</text>
<text transform="translate(94.97,235.80) rotate(90) scale(1,0.95)" font-size="6.65">ligG</text>
<text transform="translate(103.48,235.80) rotate(90) scale(1,0.95)" font-size="6.65">ligP</text>
<text transform="translate(111.99,235.80) rotate(90) scale(1,0.95)" font-size="6.65">ligQ</text>
<text transform="translate(120.49,235.80) rotate(90) scale(1,0.95)" font-size="6.65">ligH</text>
<text transform="translate(129.00,235.80) rotate(90) scale(1,0.95)" font-size="6.65">ligM</text>
<text transform="translate(137.51,235.80) rotate(90) scale(1,0.95)" font-size="6.65">metF</text>
<text transform="translate(146.02,235.80) rotate(90) scale(1,0.95)" font-size="6.65">desA</text>
<text transform="translate(154.53,235.80) rotate(90) scale(1,0.95)" font-size="6.65">desB</text>
<text transform="translate(163.04,235.80) rotate(90) scale(1,0.95)" font-size="6.65">desZ</text>
<text transform="translate(171.55,235.80) rotate(90) scale(1,0.95)" font-size="6.65">ferA</text>
<text transform="translate(180.06,235.80) rotate(90) scale(1,0.95)" font-size="6.65">ferB</text>
<text transform="translate(188.57,235.80) rotate(90) scale(1,0.95)" font-size="6.65">ferB2</text>
<text transform="translate(197.08,235.80) rotate(90) scale(1,0.95)" font-size="6.65">fcs</text>
<text transform="translate(205.59,235.80) rotate(90) scale(1,0.95)" font-size="6.65">ech</text>
<text transform="translate(214.10,235.80) rotate(90) scale(1,0.95)" font-size="6.65">vdh</text>
<text transform="translate(222.61,235.80) rotate(90) scale(1,0.95)" font-size="6.65">vanA</text>
<text transform="translate(231.11,235.80) rotate(90) scale(1,0.95)" font-size="6.65">vanB</text>
<text transform="translate(239.62,235.80) rotate(90) scale(1,0.95)" font-size="6.65">pobA</text>
<text transform="translate(248.13,235.80) rotate(90) scale(1,0.95)" font-size="6.65">pobR</text>
<text transform="translate(256.64,235.80) rotate(90) scale(1,0.95)" font-size="6.65">praI</text>
<text transform="translate(265.15,235.80) rotate(90) scale(1,0.95)" font-size="6.65">praR</text>
<text transform="translate(273.66,235.80) rotate(90) scale(1,0.95)" font-size="6.65">praA</text>
<text transform="translate(282.17,235.80) rotate(90) scale(1,0.95)" font-size="6.65">praB</text>
<text transform="translate(290.68,235.80) rotate(90) scale(1,0.95)" font-size="6.65">praE</text>
<text transform="translate(299.19,235.80) rotate(90) scale(1,0.95)" font-size="6.65">praG</text>
<text transform="translate(307.70,235.80) rotate(90) scale(1,0.95)" font-size="6.65">praF</text>
<text transform="translate(316.21,235.80) rotate(90) scale(1,0.95)" font-size="6.65">praD</text>
<text transform="translate(324.72,235.80) rotate(90) scale(1,0.95)" font-size="6.65">praC</text>
<text transform="translate(333.23,235.80) rotate(90) scale(1,0.95)" font-size="6.65">praH</text>
<text transform="translate(341.73,235.80) rotate(90) scale(1,0.95)" font-size="6.65">pcaG</text>
<text transform="translate(350.24,235.80) rotate(90) scale(1,0.95)" font-size="6.65">pcaH</text>
<text transform="translate(358.75,235.80) rotate(90) scale(1,0.95)" font-size="6.65">pcaL</text>
<text transform="translate(367.26,235.80) rotate(90) scale(1,0.95)" font-size="6.65">pcaJ</text>
<text transform="translate(375.77,235.80) rotate(90) scale(1,0.95)" font-size="6.65">pcaI</text>
<text transform="translate(384.28,235.80) rotate(90) scale(1,0.95)" font-size="6.65">pcaB</text>
<text transform="translate(392.79,235.80) rotate(90) scale(1,0.95)" font-size="6.65">pcaR</text>
<text transform="translate(401.30,235.80) rotate(90) scale(1,0.95)" font-size="6.65">ligA</text>
<text transform="translate(409.81,235.80) rotate(90) scale(1,0.95)" font-size="6.65">ligB</text>
<text transform="translate(418.32,235.80) rotate(90) scale(1,0.95)" font-size="6.65">ligC</text>
<text transform="translate(426.83,235.80) rotate(90) scale(1,0.95)" font-size="6.65">ligI</text>
<text transform="translate(435.34,235.80) rotate(90) scale(1,0.95)" font-size="6.65">ligJ</text>
<text transform="translate(443.85,235.80) rotate(90) scale(1,0.95)" font-size="6.65">ligK</text>
<text transform="translate(452.35,235.80) rotate(90) scale(1,0.95)" font-size="6.65">ligR</text>
<text transform="translate(460.86,235.80) rotate(90) scale(1,0.95)" font-size="6.65">benA-xylX</text>
<text transform="translate(469.37,235.80) rotate(90) scale(1,0.95)" font-size="6.65">benB-xylY</text>
<text transform="translate(477.88,235.80) rotate(90) scale(1,0.95)" font-size="6.65">benC-xylZ</text>
<text transform="translate(486.39,235.80) rotate(90) scale(1,0.95)" font-size="6.65">benD-xylL</text>
<text transform="translate(494.90,235.80) rotate(90) scale(1,0.95)" font-size="6.65">catA</text>
<text transform="translate(503.41,235.80) rotate(90) scale(1,0.95)" font-size="6.65">catB</text>
<text transform="translate(511.92,235.80) rotate(90) scale(1,0.95)" font-size="6.65">catC</text>
<text transform="translate(520.43,235.80) rotate(90) scale(1,0.95)" font-size="6.65">catE</text>
<text transform="translate(528.94,235.80) rotate(90) scale(1,0.95)" font-size="6.65">xylG</text>
<text transform="translate(537.45,235.80) rotate(90) scale(1,0.95)" font-size="6.65">xylH</text>
<text transform="translate(545.96,235.80) rotate(90) scale(1,0.95)" font-size="6.65">xylI</text>
<text transform="translate(554.47,235.80) rotate(90) scale(1,0.95)" font-size="6.65">xylJ</text>
<text transform="translate(562.97,235.80) rotate(90) scale(1,0.95)" font-size="6.65">xylK</text>
<text transform="translate(571.48,235.80) rotate(90) scale(1,0.95)" font-size="6.65">xylF</text>
<text transform="translate(8.33,56.70) rotate(-90) scale(1.0,1.03)" font-size="8.5" text-anchor="middle">Sediment</text>
<text transform="translate(8.26,174.60) rotate(-90) scale(1.0,1.03)" font-size="8.3" text-anchor="middle">Seawater</text>
<rect x="24.90" y="278.90" width="42.85" height="6.70" fill="#0CCCF4"/>
<rect x="67.45" y="278.90" width="51.36" height="6.70" fill="#FA8F87"/>
<rect x="118.50" y="278.90" width="25.83" height="6.70" fill="#FBA141"/>
<rect x="144.03" y="278.90" width="25.83" height="6.70" fill="#0FD49C"/>
<rect x="169.56" y="278.90" width="25.83" height="6.70" fill="#0DCE6C"/>
<rect x="195.08" y="278.90" width="17.32" height="6.70" fill="#B3BF0A"/>
<rect x="212.10" y="278.90" width="51.36" height="6.70" fill="#0CCCF4"/>
<rect x="263.16" y="278.90" width="76.88" height="6.70" fill="#BCA6F8"/>
<rect x="339.74" y="278.90" width="59.86" height="6.70" fill="#73BDEE"/>
<rect x="399.31" y="278.90" width="59.86" height="6.70" fill="#6CCB10"/>
<rect x="458.87" y="278.90" width="34.34" height="6.70" fill="#FA84CD"/>
<rect x="492.91" y="278.90" width="25.83" height="6.70" fill="#E3B010"/>
<rect x="518.44" y="278.90" width="59.56" height="6.70" fill="#F88CF8"/>
<text x="579.30" y="285.03" font-size="6.8" textLength="27.4" lengthAdjust="spacingAndGlyphs">Pathway</text>
<rect x="24.90" y="287.30" width="8.91" height="17.25" fill="#5181BA"/>
<rect x="33.41" y="287.30" width="8.91" height="17.25" fill="#6594C4"/>
<rect x="41.92" y="287.30" width="8.91" height="17.25" fill="#7CAAD0"/>
<rect x="50.43" y="287.30" width="8.91" height="17.25" fill="#6090C2"/>
<rect x="58.94" y="287.30" width="8.91" height="17.25" fill="#5787BD"/>
<rect x="67.45" y="287.30" width="8.91" height="17.25" fill="#EEF9DE"/>
<rect x="75.96" y="287.30" width="8.91" height="17.25" fill="#4878B6"/>
<rect x="84.46" y="287.30" width="8.91" height="17.25" fill="#5181BA"/>
<rect x="92.97" y="287.30" width="8.91" height="17.25" fill="#4878B6"/>
<rect x="101.48" y="287.30" width="8.91" height="17.25" fill="#4575B4"/>
<rect x="109.99" y="287.30" width="8.91" height="17.25" fill="#8EBCD9"/>
<rect x="118.50" y="287.30" width="8.91" height="17.25" fill="#77A6CE"/>
<rect x="127.01" y="287.30" width="25.93" height="17.25" fill="#4575B4"/>
<rect x="152.54" y="287.30" width="8.91" height="17.25" fill="#4C7CB8"/>
<rect x="161.05" y="287.30" width="8.91" height="17.25" fill="#4575B4"/>
<rect x="169.56" y="287.30" width="8.91" height="17.25" fill="#B4D6E8"/>
<rect x="178.07" y="287.30" width="8.91" height="17.25" fill="#DAEFF6"/>
<rect x="186.58" y="287.30" width="8.91" height="17.25" fill="#F67E51"/>
<rect x="195.08" y="287.30" width="8.91" height="17.25" fill="#5787BD"/>
<rect x="203.59" y="287.30" width="8.91" height="17.25" fill="#FEECA3"/>
<rect x="212.10" y="287.30" width="8.91" height="17.25" fill="#DB3B2D"/>
<rect x="220.61" y="287.30" width="42.95" height="17.25" fill="#4575B4"/>
<rect x="263.16" y="287.30" width="8.91" height="17.25" fill="#6090C2"/>
<rect x="271.67" y="287.30" width="8.91" height="17.25" fill="#4878B6"/>
<rect x="280.18" y="287.30" width="8.91" height="17.25" fill="#F88454"/>
<rect x="288.69" y="287.30" width="8.91" height="17.25" fill="#5C8BC0"/>
<rect x="297.20" y="287.30" width="17.42" height="17.25" fill="#4575B4"/>
<rect x="314.21" y="287.30" width="8.91" height="17.25" fill="#5181BA"/>
<rect x="322.72" y="287.30" width="8.91" height="17.25" fill="#4C7CB8"/>
<rect x="331.23" y="287.30" width="25.93" height="17.25" fill="#5787BD"/>
<rect x="356.76" y="287.30" width="8.91" height="17.25" fill="#5C8BC0"/>
<rect x="365.27" y="287.30" width="17.42" height="17.25" fill="#6594C4"/>
<rect x="382.29" y="287.30" width="8.91" height="17.25" fill="#6999C7"/>
<rect x="390.80" y="287.30" width="8.91" height="17.25" fill="#4878B6"/>
<rect x="399.31" y="287.30" width="17.42" height="17.25" fill="#5181BA"/>
<rect x="416.32" y="287.30" width="8.91" height="17.25" fill="#5787BD"/>
<rect x="424.83" y="287.30" width="8.91" height="17.25" fill="#5C8BC0"/>
<rect x="433.34" y="287.30" width="8.91" height="17.25" fill="#5787BD"/>
<rect x="441.85" y="287.30" width="8.91" height="17.25" fill="#6E9DC9"/>
<rect x="450.36" y="287.30" width="8.91" height="17.25" fill="#6999C7"/>
<rect x="458.87" y="287.30" width="17.42" height="17.25" fill="#4575B4"/>
<rect x="475.89" y="287.30" width="8.91" height="17.25" fill="#77A6CE"/>
<rect x="484.40" y="287.30" width="8.91" height="17.25" fill="#F88454"/>
<rect x="492.91" y="287.30" width="25.93" height="17.25" fill="#4575B4"/>
<rect x="518.44" y="287.30" width="8.91" height="17.25" fill="#6594C4"/>
<rect x="526.94" y="287.30" width="8.91" height="17.25" fill="#FB8957"/>
<rect x="535.45" y="287.30" width="8.91" height="17.25" fill="#4575B4"/>
<rect x="543.96" y="287.30" width="17.42" height="17.25" fill="#6594C4"/>
<rect x="560.98" y="287.30" width="8.91" height="17.25" fill="#5C8BC0"/>
<rect x="569.49" y="287.30" width="8.51" height="17.25" fill="#7CAAD0"/>
<rect x="24.90" y="304.15" width="8.91" height="16.85" fill="#4878B6"/>
<rect x="33.41" y="304.15" width="8.91" height="16.85" fill="#5787BD"/>
<rect x="41.92" y="304.15" width="8.91" height="16.85" fill="#4575B4"/>
<rect x="50.43" y="304.15" width="8.91" height="16.85" fill="#4C7CB8"/>
<rect x="58.94" y="304.15" width="8.91" height="16.85" fill="#4878B6"/>
<rect x="67.45" y="304.15" width="8.91" height="16.85" fill="#DAEFF6"/>
<rect x="75.96" y="304.15" width="8.91" height="16.85" fill="#4575B4"/>
<rect x="84.46" y="304.15" width="17.42" height="16.85" fill="#4878B6"/>
<rect x="101.48" y="304.15" width="8.91" height="16.85" fill="#4575B4"/>
<rect x="109.99" y="304.15" width="8.91" height="16.85" fill="#7CAAD0"/>
<rect x="118.50" y="304.15" width="8.91" height="16.85" fill="#AAD0E4"/>
<rect x="127.01" y="304.15" width="17.42" height="16.85" fill="#4878B6"/>
<rect x="144.03" y="304.15" width="25.93" height="16.85" fill="#4575B4"/>
<rect x="169.56" y="304.15" width="8.91" height="16.85" fill="#AAD0E4"/>
<rect x="178.07" y="304.15" width="8.91" height="16.85" fill="#E3F4F2"/>
<rect x="186.58" y="304.15" width="8.91" height="16.85" fill="#ED6845"/>
<rect x="195.08" y="304.15" width="8.91" height="16.85" fill="#4C7CB8"/>
<rect x="203.59" y="304.15" width="8.91" height="16.85" fill="#FEECA3"/>
<rect x="212.10" y="304.15" width="8.91" height="16.85" fill="#DB3B2D"/>
<rect x="220.61" y="304.15" width="8.91" height="16.85" fill="#6999C7"/>
<rect x="229.12" y="304.15" width="8.91" height="16.85" fill="#73A1CB"/>
<rect x="237.63" y="304.15" width="17.42" height="16.85" fill="#5C8BC0"/>
<rect x="254.65" y="304.15" width="8.91" height="16.85" fill="#5787BD"/>
<rect x="263.16" y="304.15" width="8.91" height="16.85" fill="#89B8D7"/>
<rect x="271.67" y="304.15" width="8.91" height="16.85" fill="#4878B6"/>
<rect x="280.18" y="304.15" width="8.91" height="16.85" fill="#DB3B2D"/>
<rect x="288.69" y="304.15" width="8.91" height="16.85" fill="#7CAAD0"/>
<rect x="297.20" y="304.15" width="17.42" height="16.85" fill="#4575B4"/>
<rect x="314.21" y="304.15" width="8.91" height="16.85" fill="#6E9DC9"/>
<rect x="322.72" y="304.15" width="8.91" height="16.85" fill="#4C7CB8"/>
<rect x="331.23" y="304.15" width="8.91" height="16.85" fill="#73A1CB"/>
<rect x="339.74" y="304.15" width="8.91" height="16.85" fill="#6090C2"/>
<rect x="348.25" y="304.15" width="17.42" height="16.85" fill="#6594C4"/>
<rect x="365.27" y="304.15" width="8.91" height="16.85" fill="#80AFD2"/>
<rect x="373.78" y="304.15" width="8.91" height="16.85" fill="#77A6CE"/>
<rect x="382.29" y="304.15" width="8.91" height="16.85" fill="#6594C4"/>
<rect x="390.80" y="304.15" width="8.91" height="16.85" fill="#9CC6DF"/>
<rect x="399.31" y="304.15" width="17.42" height="16.85" fill="#5181BA"/>
<rect x="416.32" y="304.15" width="8.91" height="16.85" fill="#6E9DC9"/>
<rect x="424.83" y="304.15" width="8.91" height="16.85" fill="#6090C2"/>
<rect x="433.34" y="304.15" width="8.91" height="16.85" fill="#5787BD"/>
<rect x="441.85" y="304.15" width="8.91" height="16.85" fill="#6090C2"/>
<rect x="450.36" y="304.15" width="8.91" height="16.85" fill="#5C8BC0"/>
<rect x="458.87" y="304.15" width="8.91" height="16.85" fill="#6594C4"/>
<rect x="467.38" y="304.15" width="8.91" height="16.85" fill="#5787BD"/>
<rect x="475.89" y="304.15" width="8.91" height="16.85" fill="#6594C4"/>
<rect x="484.40" y="304.15" width="8.91" height="16.85" fill="#DB3B2D"/>
<rect x="492.91" y="304.15" width="17.42" height="16.85" fill="#6E9DC9"/>
<rect x="509.93" y="304.15" width="17.42" height="16.85" fill="#4C7CB8"/>
<rect x="526.94" y="304.15" width="8.91" height="16.85" fill="#E7573C"/>
<rect x="535.45" y="304.15" width="8.91" height="16.85" fill="#5787BD"/>
<rect x="543.96" y="304.15" width="8.91" height="16.85" fill="#6594C4"/>
<rect x="552.47" y="304.15" width="8.91" height="16.85" fill="#7CAAD0"/>
<rect x="560.98" y="304.15" width="8.91" height="16.85" fill="#6090C2"/>
<rect x="569.49" y="304.15" width="8.51" height="16.85" fill="#5C8BC0"/>
<text x="579.30" y="298.43" font-size="6.8" textLength="53.5" lengthAdjust="spacingAndGlyphs">Gulf.of.Khambat</text>
<text x="579.30" y="315.83" font-size="6.8" textLength="43.4" lengthAdjust="spacingAndGlyphs">Gulf.of.Kutch</text>
<rect x="16.50" y="287.30" width="6.60" height="33.70" fill="#7D5B33"/>
<text transform="translate(17.40,322.80) rotate(90) scale(1,0.95)" font-size="6.65">Sample</text>
<text transform="translate(26.89,322.80) rotate(90) scale(1,0.95)" font-size="6.65">ligW2</text>
<text transform="translate(35.40,322.80) rotate(90) scale(1,0.95)" font-size="6.65">ligW</text>
<text transform="translate(43.91,322.80) rotate(90) scale(1,0.95)" font-size="6.65">ligX</text>
<text transform="translate(52.42,322.80) rotate(90) scale(1,0.95)" font-size="6.65">ligY</text>
<text transform="translate(60.93,322.80) rotate(90) scale(1,0.95)" font-size="6.65">ligZ</text>
<text transform="translate(69.44,322.80) rotate(90) scale(1,0.95)" font-size="6.65">ligD</text>
<text transform="translate(77.95,322.80) rotate(90) scale(1,0.95)" font-size="6.65">ligE</text>
<text transform="translate(86.46,322.80) rotate(90) scale(1,0.95)" font-size="6.65">ligF</text>
<text transform="translate(94.97,322.80) rotate(90) scale(1,0.95)" font-size="6.65">ligG</text>
<text transform="translate(103.48,322.80) rotate(90) scale(1,0.95)" font-size="6.65">ligP</text>
<text transform="translate(111.99,322.80) rotate(90) scale(1,0.95)" font-size="6.65">ligQ</text>
<text transform="translate(120.49,322.80) rotate(90) scale(1,0.95)" font-size="6.65">ligH</text>
<text transform="translate(129.00,322.80) rotate(90) scale(1,0.95)" font-size="6.65">ligM</text>
<text transform="translate(137.51,322.80) rotate(90) scale(1,0.95)" font-size="6.65">metF</text>
<text transform="translate(146.02,322.80) rotate(90) scale(1,0.95)" font-size="6.65">desA</text>
<text transform="translate(154.53,322.80) rotate(90) scale(1,0.95)" font-size="6.65">desB</text>
<text transform="translate(163.04,322.80) rotate(90) scale(1,0.95)" font-size="6.65">desZ</text>
<text transform="translate(171.55,322.80) rotate(90) scale(1,0.95)" font-size="6.65">ferA</text>
<text transform="translate(180.06,322.80) rotate(90) scale(1,0.95)" font-size="6.65">ferB</text>
<text transform="translate(188.57,322.80) rotate(90) scale(1,0.95)" font-size="6.65">ferB2</text>
<text transform="translate(197.08,322.80) rotate(90) scale(1,0.95)" font-size="6.65">fcs</text>
<text transform="translate(205.59,322.80) rotate(90) scale(1,0.95)" font-size="6.65">ech</text>
<text transform="translate(214.10,322.80) rotate(90) scale(1,0.95)" font-size="6.65">vdh</text>
<text transform="translate(222.61,322.80) rotate(90) scale(1,0.95)" font-size="6.65">vanA</text>
<text transform="translate(231.11,322.80) rotate(90) scale(1,0.95)" font-size="6.65">vanB</text>
<text transform="translate(239.62,322.80) rotate(90) scale(1,0.95)" font-size="6.65">pobA</text>
<text transform="translate(248.13,322.80) rotate(90) scale(1,0.95)" font-size="6.65">pobR</text>
<text transform="translate(256.64,322.80) rotate(90) scale(1,0.95)" font-size="6.65">praI</text>
<text transform="translate(265.15,322.80) rotate(90) scale(1,0.95)" font-size="6.65">praR</text>
<text transform="translate(273.66,322.80) rotate(90) scale(1,0.95)" font-size="6.65">praA</text>
<text transform="translate(282.17,322.80) rotate(90) scale(1,0.95)" font-size="6.65">praB</text>
<text transform="translate(290.68,322.80) rotate(90) scale(1,0.95)" font-size="6.65">praE</text>
<text transform="translate(299.19,322.80) rotate(90) scale(1,0.95)" font-size="6.65">praG</text>
<text transform="translate(307.70,322.80) rotate(90) scale(1,0.95)" font-size="6.65">praF</text>
<text transform="translate(316.21,322.80) rotate(90) scale(1,0.95)" font-size="6.65">praD</text>
<text transform="translate(324.72,322.80) rotate(90) scale(1,0.95)" font-size="6.65">praC</text>
<text transform="translate(333.23,322.80) rotate(90) scale(1,0.95)" font-size="6.65">praH</text>
<text transform="translate(341.73,322.80) rotate(90) scale(1,0.95)" font-size="6.65">pcaG</text>
<text transform="translate(350.24,322.80) rotate(90) scale(1,0.95)" font-size="6.65">pcaH</text>
<text transform="translate(358.75,322.80) rotate(90) scale(1,0.95)" font-size="6.65">pcaL</text>
<text transform="translate(367.26,322.80) rotate(90) scale(1,0.95)" font-size="6.65">pcaJ</text>
<text transform="translate(375.77,322.80) rotate(90) scale(1,0.95)" font-size="6.65">pcaI</text>
<text transform="translate(384.28,322.80) rotate(90) scale(1,0.95)" font-size="6.65">pcaB</text>
<text transform="translate(392.79,322.80) rotate(90) scale(1,0.95)" font-size="6.65">pcaR</text>
<text transform="translate(401.30,322.80) rotate(90) scale(1,0.95)" font-size="6.65">ligA</text>
<text transform="translate(409.81,322.80) rotate(90) scale(1,0.95)" font-size="6.65">ligB</text>
<text transform="translate(418.32,322.80) rotate(90) scale(1,0.95)" font-size="6.65">ligC</text>
<text transform="translate(426.83,322.80) rotate(90) scale(1,0.95)" font-size="6.65">ligI</text>
<text transform="translate(435.34,322.80) rotate(90) scale(1,0.95)" font-size="6.65">ligJ</text>
<text transform="translate(443.85,322.80) rotate(90) scale(1,0.95)" font-size="6.65">ligK</text>
<text transform="translate(452.35,322.80) rotate(90) scale(1,0.95)" font-size="6.65">ligR</text>
<text transform="translate(460.86,322.80) rotate(90) scale(1,0.95)" font-size="6.65">benA-xylX</text>
<text transform="translate(469.37,322.80) rotate(90) scale(1,0.95)" font-size="6.65">benB-xylY</text>
<text transform="translate(477.88,322.80) rotate(90) scale(1,0.95)" font-size="6.65">benC-xylZ</text>
<text transform="translate(486.39,322.80) rotate(90) scale(1,0.95)" font-size="6.65">benD-xylL</text>
<text transform="translate(494.90,322.80) rotate(90) scale(1,0.95)" font-size="6.65">catA</text>
<text transform="translate(503.41,322.80) rotate(90) scale(1,0.95)" font-size="6.65">catB</text>
<text transform="translate(511.92,322.80) rotate(90) scale(1,0.95)" font-size="6.65">catC</text>
<text transform="translate(520.43,322.80) rotate(90) scale(1,0.95)" font-size="6.65">catE</text>
<text transform="translate(528.94,322.80) rotate(90) scale(1,0.95)" font-size="6.65">xylG</text>
<text transform="translate(537.45,322.80) rotate(90) scale(1,0.95)" font-size="6.65">xylH</text>
<text transform="translate(545.96,322.80) rotate(90) scale(1,0.95)" font-size="6.65">xylI</text>
<text transform="translate(554.47,322.80) rotate(90) scale(1,0.95)" font-size="6.65">xylJ</text>
<text transform="translate(562.97,322.80) rotate(90) scale(1,0.95)" font-size="6.65">xylK</text>
<text transform="translate(571.48,322.80) rotate(90) scale(1,0.95)" font-size="6.65">xylF</text>
<text transform="translate(8.37,305.60) rotate(-90) scale(1.0,1.03)" font-size="8.6" text-anchor="middle">Sediment</text>
<defs><linearGradient id="g1" x1="0" y1="1" x2="0" y2="0"><stop offset="0.0000" stop-color="#4575B4"/><stop offset="0.1667" stop-color="#91BFDB"/><stop offset="0.3333" stop-color="#E0F3F8"/><stop offset="0.5000" stop-color="#FFFFBF"/><stop offset="0.6667" stop-color="#FEE090"/><stop offset="0.8333" stop-color="#FC8D59"/><stop offset="1.0000" stop-color="#D73027"/></linearGradient></defs>
<rect x="699.3" y="0.5" width="6.1" height="84.4" fill="url(#g1)"/>
<text transform="translate(707.40,12.89) scale(0.98,1)" font-size="6.4">250</text>
<text transform="translate(707.40,27.89) scale(0.98,1)" font-size="6.4">200</text>
<text transform="translate(707.40,42.79) scale(0.98,1)" font-size="6.4">150</text>
<text transform="translate(707.40,57.59) scale(0.98,1)" font-size="6.4">100</text>
<text transform="translate(707.40,72.79) scale(0.98,1)" font-size="6.4">50</text>
<text transform="translate(707.40,87.59) scale(0.98,1)" font-size="6.4">0</text>
<text transform="translate(690.92,42.60) rotate(-90) scale(1.01,1.2)" font-size="8.2" text-anchor="middle">Gene count (CDS)</text>
<defs><linearGradient id="g2" x1="0" y1="1" x2="0" y2="0"><stop offset="0.0000" stop-color="#4575B4"/><stop offset="0.1667" stop-color="#91BFDB"/><stop offset="0.3333" stop-color="#E0F3F8"/><stop offset="0.5000" stop-color="#FFFFBF"/><stop offset="0.6667" stop-color="#FEE090"/><stop offset="0.8333" stop-color="#FC8D59"/><stop offset="1.0000" stop-color="#D73027"/></linearGradient></defs>
<rect x="702.1" y="269.3" width="6.0" height="81.59999999999997" fill="url(#g2)"/>
<text transform="translate(710.60,281.59) scale(0.98,1)" font-size="6.4">400</text>
<text transform="translate(710.60,299.79) scale(0.98,1)" font-size="6.4">300</text>
<text transform="translate(710.60,317.59) scale(0.98,1)" font-size="6.4">200</text>
<text transform="translate(710.60,335.59) scale(0.98,1)" font-size="6.4">100</text>
<text transform="translate(710.60,353.19) scale(0.98,1)" font-size="6.4">0</text>
<text transform="translate(690.92,310.70) rotate(-90) scale(1.01,1.2)" font-size="8.2" text-anchor="middle">Gene count (CDS)</text>
<text transform="translate(686.80,105.09) scale(1.0,1)" font-size="5.85">Pathway</text>
<rect x="686.90" y="107.10" width="8.00" height="8.32" fill="#FB7EE2"/>
<text transform="translate(696.90,113.56) scale(1.0,1)" font-size="5.85">Benzoate</text>
<rect x="686.90" y="115.22" width="8.00" height="8.32" fill="#FA8F87"/>
<text transform="translate(696.90,121.68) scale(1.0,1)" font-size="5.85">Beta-aryl ether</text>
<rect x="686.90" y="123.35" width="8.00" height="8.32" fill="#17CDEB"/>
<text transform="translate(696.90,129.81) scale(1.0,1)" font-size="5.85">Biphenyl</text>
<rect x="686.90" y="131.47" width="8.00" height="8.32" fill="#E5A712"/>
<text transform="translate(696.90,137.93) scale(1.0,1)" font-size="5.85">Catechol 1,2 Cleavage</text>
<rect x="686.90" y="139.60" width="8.00" height="8.32" fill="#FB84F0"/>
<text transform="translate(696.90,146.06) scale(1.0,1)" font-size="5.85">Catechol 2,3 Cleavage</text>
<rect x="686.90" y="147.72" width="8.00" height="8.32" fill="#0DCE5B"/>
<text transform="translate(696.90,154.18) scale(1.0,1)" font-size="5.85">Ferulate</text>
<rect x="686.90" y="155.85" width="8.00" height="8.32" fill="#0CCDF2"/>
<text transform="translate(696.90,162.31) scale(1.0,1)" font-size="5.85">Monoaryls</text>
<rect x="686.90" y="163.97" width="8.00" height="8.32" fill="#C3B70A"/>
<text transform="translate(696.90,170.43) scale(1.0,1)" font-size="5.85">p-Coumarate</text>
<rect x="686.90" y="172.10" width="8.00" height="8.32" fill="#CE9EFA"/>
<text transform="translate(696.90,178.56) scale(1.0,1)" font-size="5.85">PCA 2,3 Cleavage</text>
<rect x="686.90" y="180.22" width="8.00" height="8.32" fill="#86B4F9"/>
<text transform="translate(696.90,186.68) scale(1.0,1)" font-size="5.85">PCA 3,4 Cleavage</text>
<rect x="686.90" y="188.35" width="8.00" height="8.32" fill="#80CE18"/>
<text transform="translate(696.90,194.81) scale(1.0,1)" font-size="5.85">PCA 4,5 Cleavage</text>
<rect x="686.90" y="196.47" width="8.00" height="8.32" fill="#0FD594"/>
<text transform="translate(696.90,202.93) scale(1.0,1)" font-size="5.85">Syringate</text>
<rect x="686.90" y="204.60" width="8.00" height="8.12" fill="#FBA141"/>
<text x="696.90" y="211.06" font-size="5.85" textLength="47.7" lengthAdjust="spacingAndGlyphs"><tspan font-style="italic">O</tspan>-demethylation</text>
<text transform="translate(688.20,229.09) scale(1.0,1)" font-size="5.85">Sample</text>
<rect x="688.20" y="231.00" width="8.40" height="8.90" fill="#7D5B33"/>
<rect x="688.20" y="239.85" width="8.40" height="8.80" fill="#A9D6E6"/>
<text transform="translate(698.60,237.59) scale(1.0,1)" font-size="5.85">Sediment</text>
<text transform="translate(698.60,246.69) scale(1.0,1)" font-size="5.85">Seawater</text>
</svg>
</body></html>
